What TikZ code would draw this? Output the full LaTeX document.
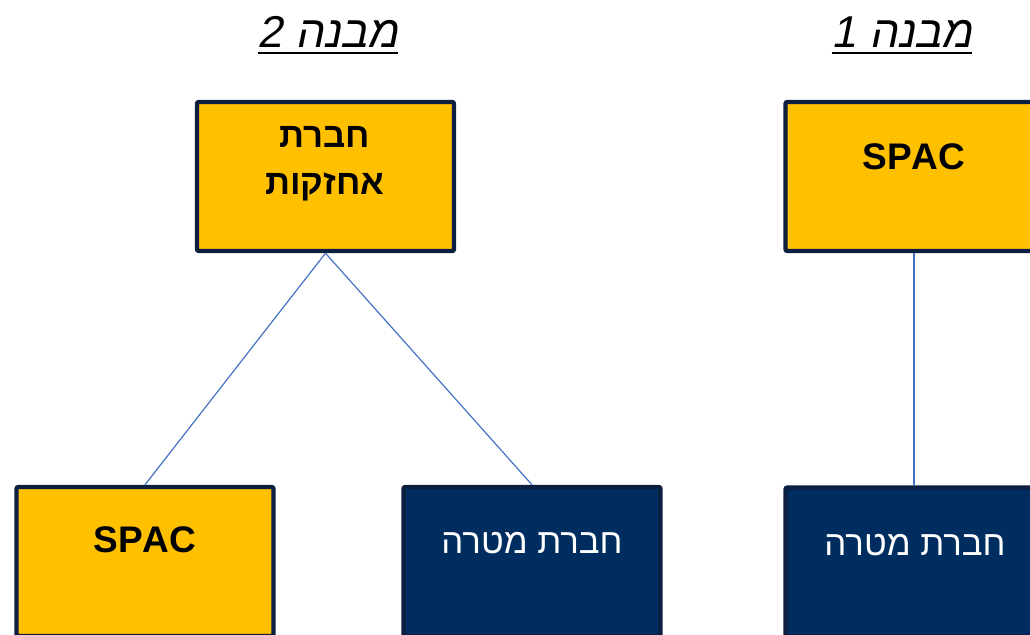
\documentclass[tikz,border=0pt]{standalone}
\usepackage{fontspec}
\setmainfont{Liberation Sans}
\newfontfamily\hebfont[Script=Hebrew]{Liberation Sans}
\newfontfamily\hebslant[Script=Hebrew,FakeSlant=0.2]{Liberation Sans}
\TeXXeTstate=1
\usepackage{xcolor}
\usetikzlibrary{positioning}
\definecolor{spacgold}{HTML}{FFC000}
\definecolor{targetnavy}{HTML}{002D5F}
\definecolor{boxedge}{HTML}{0C1F40}
\definecolor{linkblue}{HTML}{4472C4}
\begin{document}
\begin{tikzpicture}[x=0.5pt, y=-0.5pt,
  goldbox/.style={draw=boxedge, fill=spacgold, line width=2.2pt, rounded corners=1pt, minimum width=128.5pt, minimum height=74.5pt},
  navybox/.style={goldbox, fill=targetnavy},
  link/.style={draw=linkblue, line width=0.6pt},
  boxtext/.style={font=\hebfont\fontsize{18.5}{23.5}\selectfont, align=center, inner sep=0pt},
  hebtext/.style={boxtext, font=\hebfont\fontsize{17.4}{23.5}\selectfont},
  titletext/.style={font=\hebslant\fontsize{22.3}{28}\selectfont, inner sep=0pt, anchor=base}]
\useasboundingbox (0,0) rectangle (1030,635);
\clip (0,0) rectangle (1030,635);

% Titles
\node[titletext] (title2) at (328,48) {\beginR מבנה 2\endR};
\node[titletext] (title1) at (902,48) {\beginR מבנה 1\endR};
\draw[line width=1pt] ([yshift=-2.6pt]title2.base west) -- ([yshift=-2.6pt]title2.base east);
\draw[line width=1pt] ([yshift=-2.6pt]title1.base west) -- ([yshift=-2.6pt]title1.base east);

% Structure 2
\node[goldbox] (hold) at (325.5,176.5) {};
\node[goldbox] (spac2) at (145,561.5) {};
\node[navybox] (target2) at (532,561.5) {};
\draw[link] (hold.south) -- (spac2.north);
\draw[link] (hold.south) -- (target2.north);

% Structure 1
\node[goldbox] (spac1) at (914,176.5) {};
\node[navybox] (target1) at (914,562) {};
\draw[link] (spac1.south) -- (target1.north);

% Texts
\node[hebtext] (holdtxt) at (325,164) {\bfseries\beginR חברת\endR\\\bfseries\beginR אחזקות\endR};
\node[boxtext] (spac2txt) at (145,540) {\bfseries SPAC};
\node[hebtext, text=white] (target2txt) at (532,543) {\beginR חברת מטרה\endR};
\node[boxtext] (spac1txt) at (914,157) {\bfseries SPAC};
\node[hebtext, text=white] (target1txt) at (915,545) {\beginR חברת מטרה\endR};
\end{tikzpicture}
\end{document}
